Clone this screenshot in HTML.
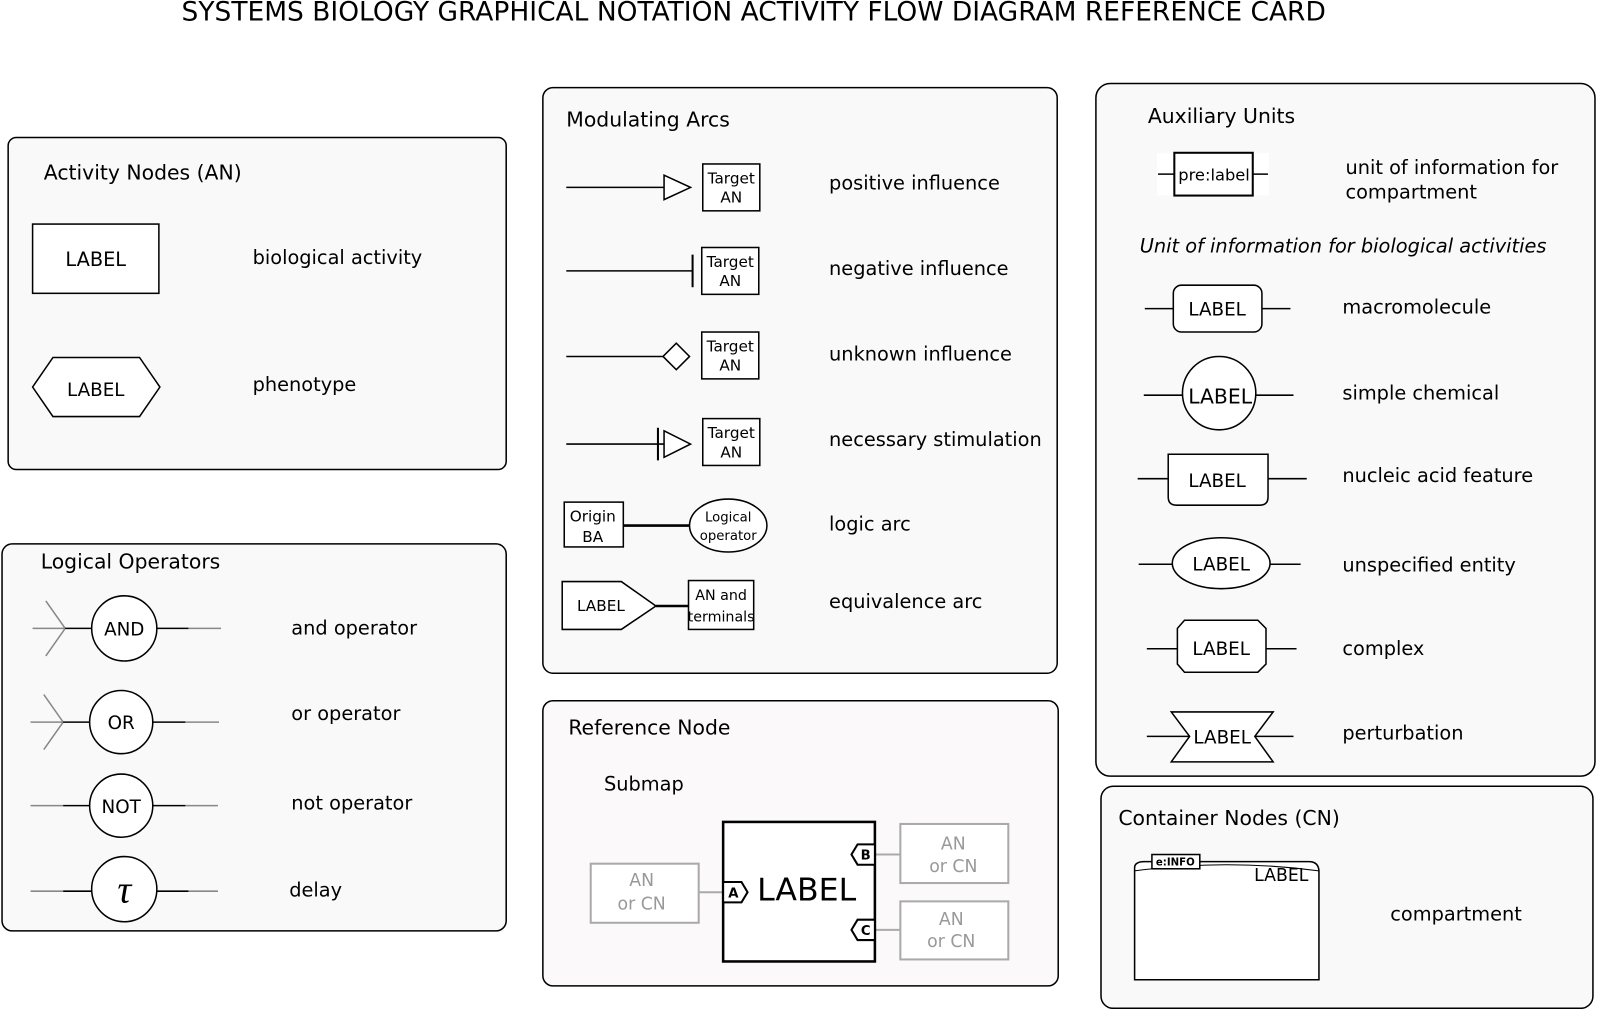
<!DOCTYPE html>
<html><head><meta charset="utf-8"><style>
html,body{margin:0;padding:0;background:#fff;}
svg{display:block;font-family:"DejaVu Sans","Liberation Sans",sans-serif;}
</style></head><body>
<svg width="1597" height="1009" viewBox="0 0 1597 1009" xmlns="http://www.w3.org/2000/svg">
<rect width="1597" height="1009" fill="#fff"/>
<g transform="scale(1.0185)">
<text x="740" y="20" font-size="26" text-anchor="middle">SYSTEMS BIOLOGY GRAPHICAL NOTATION ACTIVITY FLOW DIAGRAM REFERENCE CARD</text>

<g fill="#f9f9f9" stroke="#000" stroke-width="1.5">
<rect x="8" y="135" width="489" height="326" rx="8"/>
<rect x="2" y="534" width="495" height="380" rx="10"/>
<rect x="533" y="86" width="505" height="575" rx="10"/>
<rect x="533" y="688" width="506" height="280" rx="10" fill="#fbf9f9"/>
<rect x="1076" y="82" width="490" height="680" rx="14"/>
<rect x="1081" y="772" width="483" height="218" rx="12"/>
</g>

<g font-size="20">
<text x="43" y="176">Activity Nodes (AN)</text>
<text x="40" y="558">Logical Operators</text>
<text x="556" y="124">Modulating Arcs</text>
<text x="558" y="721">Reference Node</text>
<text x="1127" y="121">Auxiliary Units</text>
<text x="1098" y="810">Container Nodes (CN)</text>
</g>
<g font-size="19">
<text x="248" y="259">biological activity</text>
<text x="248" y="384">phenotype</text>
<text x="286" y="623">and operator</text>
<text x="286" y="707">or operator</text>
<text x="286" y="795">not operator</text>
<text x="284" y="880">delay</text>
<text x="814" y="186">positive influence</text>
<text x="814" y="270">negative influence</text>
<text x="814" y="354">unknown influence</text>
<text x="814" y="438">necessary stimulation</text>
<text x="814" y="521">logic arc</text>
<text x="814" y="597">equivalence arc</text>
<text x="1321" y="171">unit of information for</text>
<text x="1321" y="195">compartment</text>
<text x="1119" y="248" font-style="italic">Unit of information for biological activities</text>
<text x="1318" y="308">macromolecule</text>
<text x="1318" y="392">simple chemical</text>
<text x="1318" y="473">nucleic acid feature</text>
<text x="1318" y="561">unspecified entity</text>
<text x="1318" y="643">complex</text>
<text x="1318" y="726">perturbation</text>
<text x="1365" y="904">compartment</text>
<text x="593" y="776">Submap</text>
</g>

<g fill="#fff" stroke="#000" stroke-width="1.5">
<rect x="32" y="220" width="124" height="68"/>
<polygon points="32,380 52,351 137,351 157,380 137,409 52,409"/>
</g>
<text x="94" y="261" font-size="19" text-anchor="middle">LABEL</text>
<text x="94" y="389" font-size="18" text-anchor="middle">LABEL</text>

<g stroke="#888" stroke-width="1.5" fill="none">
<path d="M32,617 H64 M45,590 L64,617 L45,644"/>
<path d="M185,617 H217"/>
<path d="M30,709 H62 M43,682 L62,709 L43,736"/>
<path d="M182,709 H215"/>
<path d="M30,791 H62 M182,791 H214"/>
<path d="M30,875 H62 M185,875 H214"/>
</g>
<g stroke="#000" stroke-width="1.5" fill="#fff">
<path d="M64,617 H90 M153,617 H185 M62,709 H88 M150,709 H182 M62,791 H88 M150,791 H182 M62,875 H90 M153,875 H185" fill="none"/>
<circle cx="122" cy="617" r="32"/>
<circle cx="119" cy="709" r="31"/>
<circle cx="119" cy="791" r="31"/>
<circle cx="122" cy="873" r="32"/>
</g>
<g font-size="18" text-anchor="middle">
<text x="122" y="624">AND</text>
<text x="119" y="716">OR</text>
<text x="119" y="798">NOT</text>
<text x="122" y="886" font-size="38" font-family="Liberation Serif,serif" font-style="italic">τ</text>
</g>

<g stroke="#000" stroke-width="1.5" fill="#fff">
<line x1="556" y1="184" x2="652" y2="184"/>
<polygon points="652,172 678,184 652,196"/>
<line x1="556" y1="266" x2="680" y2="266"/>
<line x1="680" y1="250" x2="680" y2="282" stroke-width="2"/>
<line x1="556" y1="350" x2="652" y2="350"/>
<polygon points="651,350 664,337 677,350 664,363"/>
<line x1="556" y1="436" x2="652" y2="436"/>
<line x1="646" y1="420" x2="646" y2="452" stroke-width="2"/>
<polygon points="652,423 678,436 652,449"/>
<rect x="690" y="161" width="56" height="46"/>
<rect x="689" y="243" width="56" height="46"/>
<rect x="689" y="326" width="56" height="46"/>
<rect x="690" y="411" width="56" height="46"/>
<rect x="554" y="493" width="58" height="44"/>
<line x1="612" y1="516" x2="677" y2="516" stroke-width="2.5"/>
<ellipse cx="715" cy="516" rx="38" ry="26"/>
<polygon points="552,571 610,571 644,595 610,618 552,618"/>
<line x1="644" y1="595" x2="676" y2="595" stroke-width="2.5"/>
<rect x="676" y="570" width="64" height="48"/>
</g>
<g font-size="15" text-anchor="middle">
<text x="718" y="180">Target</text><text x="718" y="199">AN</text>
<text x="717" y="262">Target</text><text x="717" y="281">AN</text>
<text x="717" y="345">Target</text><text x="717" y="364">AN</text>
<text x="718" y="430">Target</text><text x="718" y="449">AN</text>
<text x="582" y="512">Origin</text><text x="582" y="532">BA</text>
<text x="715" y="512" font-size="13">Logical</text><text x="715" y="530" font-size="13">operator</text>
<text x="590" y="600">LABEL</text>
<text x="708" y="589" font-size="14">AN and</text><text x="708" y="610" font-size="14">terminals</text>
</g>

<g stroke="#aaa" stroke-width="2" fill="#fff">
<rect x="580" y="848" width="106" height="58"/>
<rect x="884" y="809" width="106" height="58"/>
<rect x="884" y="885" width="106" height="57"/>
<path d="M686,876 H710 M858,839 H884 M858,913 H884" fill="none"/>
</g>
<g fill="#999" font-size="17" text-anchor="middle">
<text x="630" y="870">AN</text><text x="630" y="893">or CN</text>
<text x="936" y="834">AN</text><text x="936" y="856">or CN</text>
<text x="934" y="908">AN</text><text x="934" y="930">or CN</text>
</g>
<rect x="710" y="807" width="149" height="137" fill="#fff" stroke="#000" stroke-width="2.5"/>
<text x="792" y="884" font-size="31" text-anchor="middle">LABEL</text>
<g stroke="#000" stroke-width="2" fill="#fff">
<polygon points="710,866 728,866 734,876 728,886 710,886"/>
<polygon points="859,829 842,829 836,839 842,849 859,849"/>
<polygon points="859,903 842,903 836,913 842,923 859,923"/>
</g>
<g font-size="13" font-weight="bold" text-anchor="middle">
<text x="720" y="881">A</text><text x="850" y="844">B</text><text x="850" y="918">C</text>
</g>

<rect x="1136" y="150" width="110" height="42" fill="#fff"/>
<g stroke="#000" stroke-width="1.5" fill="#fff">
<line x1="1137" y1="171" x2="1245" y2="171"/>
<rect x="1153" y="150" width="77" height="42" stroke-width="2"/>
<line x1="1124" y1="303" x2="1267" y2="303"/>
<rect x="1152" y="280" width="87" height="46" rx="8"/>
<line x1="1123" y1="388" x2="1270" y2="388"/>
<ellipse cx="1197" cy="386" rx="36" ry="36"/>
<line x1="1117" y1="470" x2="1283" y2="470"/>
<path d="M1147,446 H1245 V488 Q1245,496 1237,496 H1155 Q1147,496 1147,488 Z"/>
<line x1="1118" y1="554" x2="1277" y2="554"/>
<ellipse cx="1199" cy="553" rx="48" ry="25"/>
<line x1="1126" y1="637" x2="1273" y2="637"/>
<polygon points="1163,609 1235,609 1243,617 1243,652 1235,660 1163,660 1156,652 1156,617"/>
<line x1="1126" y1="723" x2="1270" y2="723"/>
<polygon points="1150,699 1250,699 1232,723 1250,748 1150,748 1168,723"/>
</g>
<g font-size="18" text-anchor="middle">
<text x="1192" y="177" font-size="16">pre:label</text>
<text x="1195" y="310">LABEL</text>
<text x="1198" y="396" font-size="20">LABEL</text>
<text x="1195" y="478">LABEL</text>
<text x="1199" y="560">LABEL</text>
<text x="1199" y="643">LABEL</text>
<text x="1200" y="730">LABEL</text>
</g>

<path d="M1114,852 Q1114,846 1124,846 H1285 Q1295,846 1295,856 V962 H1114 Z" fill="#fff" stroke="#000" stroke-width="1.5"/>
<path d="M1114,855 Q1204,843 1295,855" fill="none" stroke="#000" stroke-width="1"/>
<rect x="1131" y="839" width="47" height="14" fill="#fff" stroke="#000" stroke-width="1.5"/>
<text x="1154" y="850" font-size="10" font-weight="bold" text-anchor="middle">e:INFO</text>
<text x="1258" y="865" font-size="17" text-anchor="middle">LABEL</text>
</g>
</svg>
</body></html>
